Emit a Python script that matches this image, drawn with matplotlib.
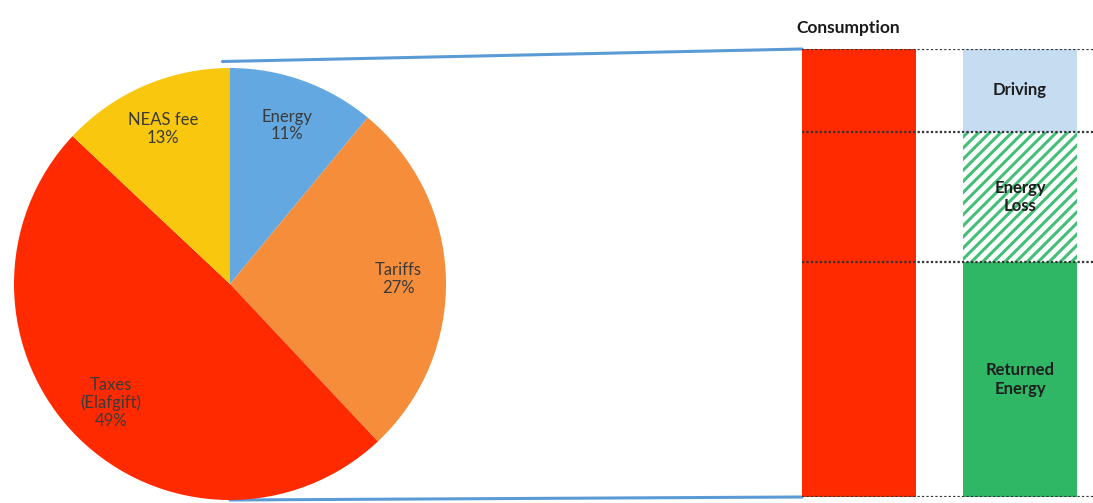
import matplotlib
matplotlib.use("Agg")
import matplotlib.pyplot as plt
from matplotlib.patches import ConnectionPatch
import numpy as np

# ---- data ----
pie_labels = ["Energy", "Tariffs", "Taxes\n(Elafgift)", "NEAS fee"]
pie_values = [11, 27, 49, 13]
pie_colors = ["#64A8E2", "#F68D3A", "#FF2A00", "#F9C80E"]

bar_title = "Consumption"
stack_labels = ["Returned\nEnergy", "Energy\nLoss", "Driving"]
stack_values = [52.5, 29.0, 18.5]
consumption_total = [100.0]

plt.rcParams['font.family'] = ['Lato', 'DejaVu Sans']
plt.rcParams['hatch.linewidth'] = 2.2

fig = plt.figure(figsize=(10.93, 5.03), dpi=100)
W, H = 1093, 503

# ---- pie ----
cx, cy, r = 230, 284, 216
ax_pie = fig.add_axes([(cx - r) / W, (H - cy - r) / H, 2 * r / W, 2 * r / H])
ax_pie.set_facecolor("none")
wedges, _ = ax_pie.pie(pie_values, colors=pie_colors, startangle=90, counterclock=False,
                       radius=1, wedgeprops=dict(linewidth=0))
ax_pie.set_xlim(-1, 1)
ax_pie.set_ylim(-1, 1)
ax_pie.set_aspect("equal")
ax_pie.axis("off")
for w, lab, v in zip(wedges, pie_labels, pie_values):
    ang = np.deg2rad((w.theta1 + w.theta2) / 2)
    rr = 0.78
    ax_pie.text(rr * np.cos(ang), rr * np.sin(ang), f"{lab}\n{v}%", ha="center", va="center",
                fontsize=12, color="#3a3a3a", linespacing=1.15)

# ---- stacked bars ----
x0, x1 = 802, 1093
ax_bar = fig.add_axes([x0 / W, (H - 497) / H, (x1 - x0) / W, 448 / H])
ax_bar.set_facecolor("none")
bw = 114 / 161
ax_bar.bar([0], consumption_total, width=bw, color="#FF2A00", edgecolor="none")
bottom = 0
stack_styles = [
    dict(color="#2FB766", edgecolor="none"),
    dict(facecolor="white", edgecolor="#45BF77", hatch="///", linewidth=0),
    dict(color="#C6DCF1", edgecolor="none"),
]
bounds = [0]
for lab, v, st in zip(stack_labels, stack_values, stack_styles):
    ax_bar.bar([1], [v], bottom=bottom, width=bw, **st)
    ax_bar.text(1, bottom + v / 2, lab, ha="center", va="center", fontsize=12,
                fontweight="bold", color="#1e1e1e", linespacing=1.2)
    bottom += v
    bounds.append(bottom)
ax_bar.set_xlim(-bw / 2, -bw / 2 + (x1 - x0) / 161)
ax_bar.set_ylim(0, 100)
for b in bounds:
    ax_bar.axhline(b, color="#333333", linestyle=(0, (1, 1)), linewidth=1.6, zorder=3)
ax_bar.axis("off")
fig.text(796 / W, (H - 28) / H, bar_title, ha="left", va="center", fontsize=12.5,
         fontweight="bold", color="#1a1a1a")

# ---- connection lines ----
for (pp, bp) in [((-0.035, 1.03), (-bw / 2, 100)), ((0, -1.0), (-bw / 2, 0))]:
    con = ConnectionPatch(xyA=pp, coordsA=ax_pie.transData, xyB=bp, coordsB=ax_bar.transData,
                          color="#5B9BD5", linewidth=2.2, zorder=-1)
    ax_pie.add_artist(con)

fig.savefig("out.png", dpi=100, facecolor="white")
